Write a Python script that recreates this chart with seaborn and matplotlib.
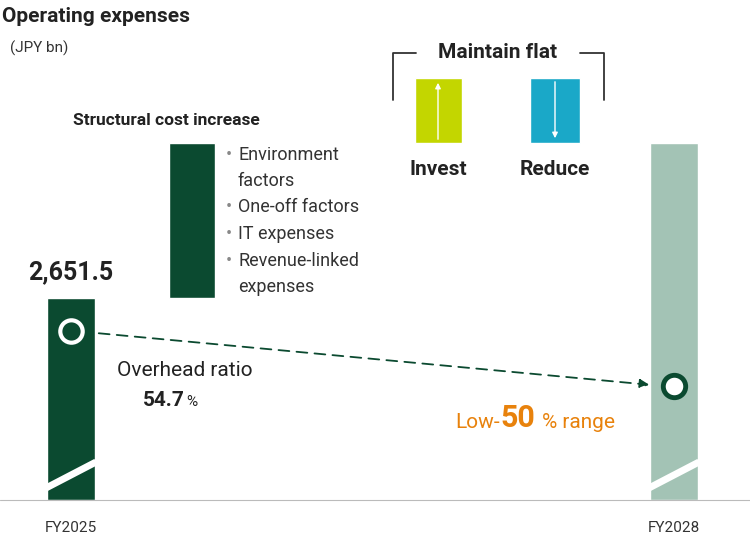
import matplotlib.pyplot as plt
import seaborn as sns

# values in chart units (scaled from the picture; FY2025 = 2,651.5)
bar_names = ["FY2025", "Structural", "Invest", "Reduce", "FY2028"]
bar_x = [71, 192, 438, 555, 674]
bar_bottom = [0, 2651.5, 4686, 4686, 0]
bar_height = [2651.5, 2034.5, 853, 853, 4686]
bar_width = [48, 46, 47, 50, 48]
bar_colors = ["#0b4a30", "#0b4a30", "#c3d600", "#1aa8c8", "#a3c3b5"]
ratio_2025 = 54.7
fy_labels = ["FY2025", "FY2028"]
struct_items = ["Environment\n  factors", "One-off factors", "IT expenses", "Revenue-linked\n  expenses"]

S = 2651.5 / 202  # units per pixel
def Y(p):
    return (500 - p) * S

sns.set_style("white")
plt.rcParams["font.family"] = ["Roboto", "DejaVu Sans"]
fig = plt.figure(figsize=(7.5, 5.4), dpi=100)
ax = fig.add_axes([0, 0, 1, 1])
ax.set_xlim(0, 750)
ax.set_ylim(Y(540), Y(0))
ax.axis("off")

ax.bar(bar_x, bar_height, width=bar_width, bottom=bar_bottom, color=bar_colors)
ax.axhline(0, xmin=0, xmax=1, color="#bbbbbb", lw=0.8)

# break marks
for x in (bar_x[0], bar_x[4]):
    ax.plot([x - 25, x + 25], [Y(488), Y(462)], color="white", lw=5, solid_capstyle="butt")

# arrows inside invest / reduce
ax.annotate("", xy=(bar_x[2], Y(80)), xytext=(bar_x[2], Y(142)),
            arrowprops=dict(arrowstyle="-|>", color="white", lw=1, mutation_scale=8))
ax.annotate("", xy=(bar_x[3], Y(141)), xytext=(bar_x[3], Y(79)),
            arrowprops=dict(arrowstyle="-|>", color="white", lw=1, mutation_scale=8))

# bracket
ax.plot([393, 393, 416], [Y(100), Y(53), Y(53)], color="#333333", lw=1.3)
ax.plot([580, 604, 604], [Y(53), Y(53), Y(100)], color="#333333", lw=1.3)
ax.text(498, Y(53), "Maintain flat", ha="center", va="center", fontsize=15, fontweight="bold", color="#222222")
ax.text(bar_x[2], Y(170), "Invest", ha="center", va="center", fontsize=15, fontweight="bold", color="#222222")
ax.text(bar_x[3], Y(170), "Reduce", ha="center", va="center", fontsize=15, fontweight="bold", color="#222222")

# dashed arrow + circles
ax.annotate("", xy=(652, Y(385)), xytext=(96, Y(333)),
            arrowprops=dict(arrowstyle="-|>", color="#0b4a30", lw=1.3, linestyle=(0, (6, 4)), mutation_scale=14))
ax.scatter([bar_x[0]], [Y(331)], s=260, facecolor="#0b4a30", edgecolor="white", linewidth=3, zorder=5)
ax.scatter([bar_x[4]], [Y(386)], s=260, facecolor="white", edgecolor="#0b4a30", linewidth=3.5, zorder=5)

# texts
ax.text(2, Y(16), "Operating expenses", fontsize=15, fontweight="bold", va="center", color="#222222")
ax.text(10, Y(48), "(JPY bn)", fontsize=11, va="center", color="#333333")
ax.text(bar_x[0], Y(272), "2,651.5", ha="center", va="center", fontsize=18, fontweight="bold", color="#222222")
ax.text(73, Y(121), "Structural cost increase", fontsize=12.5, fontweight="bold", va="center", color="#222222")
ty = [155, 207, 234, 261]
for t, y in zip(struct_items, ty):
    ax.text(226, Y(y), "\u2022", color="#888888", fontsize=13, va="center")
    ax.text(238, Y(y), t.replace("\n  ", "\n"), fontsize=13, va="top" if "\n" in t else "center",
            color="#333333", linespacing=1.0) if False else None
for t, y in zip(struct_items, ty):
    lines = t.split("\n")
    ax.text(238, Y(y), lines[0], fontsize=13, va="center", color="#333333")
    if len(lines) > 1:
        ax.text(238, Y(y + 26), lines[1].strip(), fontsize=13, va="center", color="#333333")
ax.text(185, Y(370), "Overhead ratio", ha="center", va="center", fontsize=15, color="#222222")
ax.text(185, Y(400), f"{ratio_2025}", ha="right", va="center", fontsize=15, fontweight="bold", color="#222222")
ax.text(186, Y(402), "%", ha="left", va="center", fontsize=11, color="#222222")
ax.text(500, Y(422), "Low-", ha="right", va="center", fontsize=15, color="#e8820c")
ax.text(500, Y(418), "50", ha="left", va="center", fontsize=22, fontweight="bold", color="#e8820c")
ax.text(542, Y(422), "% range", ha="left", va="center", fontsize=15, color="#e8820c")
ax.text(bar_x[0], Y(528), fy_labels[0], ha="center", va="center", fontsize=11, color="#333333")
ax.text(bar_x[4], Y(528), fy_labels[1], ha="center", va="center", fontsize=11, color="#333333")

fig.savefig("out.png", dpi=100)
